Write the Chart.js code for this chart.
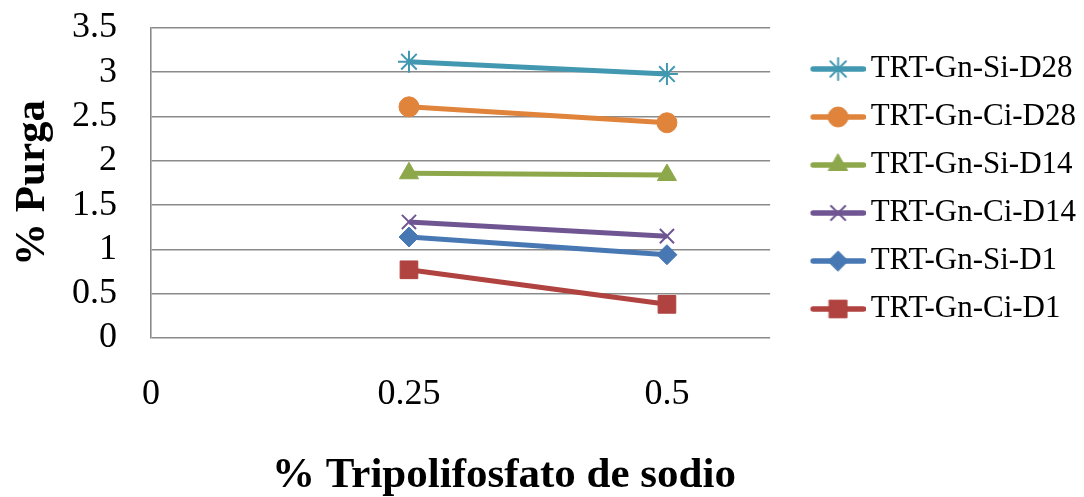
<!DOCTYPE html>
<html><head><meta charset="utf-8">
<script src="https://cdn.jsdelivr.net/npm/chart.js@4.4.0/dist/chart.umd.min.js"></script>
<style>html,body{margin:0;padding:0;background:#fff}</style>
</head><body>
<canvas id="c" width="1084" height="497"></canvas>
<script>
// ---- data ----
const xValues = [0.25, 0.5];
const xTickValues = [0, 0.25, 0.5];
const yTickValues = [0, 0.5, 1, 1.5, 2, 2.5, 3, 3.5];
const seriesNames = ['TRT-Gn-Si-D28', 'TRT-Gn-Ci-D28', 'TRT-Gn-Si-D14', 'TRT-Gn-Ci-D14', 'TRT-Gn-Si-D1', 'TRT-Gn-Ci-D1'];
const siD28 = [3.12, 2.98];
const ciD28 = [2.61, 2.43];
const siD14 = [1.86, 1.84];
const ciD14 = [1.31, 1.15];
const siD1 = [1.14, 0.94];
const ciD1 = [0.77, 0.38];
const xTitleText = '% Tripolifosfato de sodio';
const yTitleText = '% Purga';

// ---- styles ----
const seriesColors = ['#4298B0', '#E0833B', '#8DA84B', '#6F5592', '#4778B4', '#B0423F'];
const seriesMarkers = ['star', 'circle', 'triangle', 'crossRot', 'rectRot', 'rect'];
const markerRadius = [11, 10, 11, 10, 10, 12.5];
const seriesValues = [siD28, ciD28, siD14, ciD14, siD1, ciD1];
const FONT = '"Liberation Serif", "Times New Roman", serif';

function legendIcon(i) {
  const W = 89, H = 28;
  const cv = document.createElement('canvas');
  cv.width = W; cv.height = H;
  const g = cv.getContext('2d');
  g.strokeStyle = seriesColors[i];
  g.fillStyle = seriesColors[i];
  g.lineWidth = 5.5; g.lineCap = 'round';
  g.beginPath(); g.moveTo(36.5, H / 2); g.lineTo(W - 2.5, H / 2); g.stroke();
  g.lineWidth = (seriesMarkers[i] === 'star' || seriesMarkers[i] === 'crossRot') ? 2 : 1;
  Chart.helpers.drawPoint(g, {pointStyle: seriesMarkers[i], rotation: 0, radius: markerRadius[i], borderWidth: g.lineWidth}, (34 + W) / 2, H / 2);
  return cv;
}

const datasets = seriesNames.map((name, i) => ({
  label: name,
  data: xValues.map((x, k) => ({x: x, y: seriesValues[i][k]})),
  borderColor: seriesColors[i],
  backgroundColor: seriesColors[i],
  borderWidth: 5,
  pointStyle: seriesMarkers[i],
  pointRadius: markerRadius[i],
  pointHoverRadius: markerRadius[i],
  pointBorderWidth: (seriesMarkers[i] === 'star' || seriesMarkers[i] === 'crossRot') ? 2 : 1,
  tension: 0,
  fill: false
}));

const xTitlePlugin = {
  id: 'xTitleText',
  afterDraw(chart, args, opts) {
    const ctx = chart.ctx;
    ctx.save();
    ctx.font = 'bold ' + opts.size + 'px ' + FONT;
    ctx.fillStyle = opts.color;
    ctx.textAlign = 'center';
    ctx.textBaseline = 'middle';
    ctx.fillText(opts.text, opts.x, opts.y);
    ctx.restore();
  }
};

new Chart(document.getElementById('c'), {
  type: 'line',
  data: {datasets: datasets},
  plugins: [xTitlePlugin],
  options: {
    responsive: false,
    animation: false,
    layout: {autoPadding: false, padding: {top: 28, right: -2, bottom: 0, left: 0}},
    scales: {
      x: {
        type: 'linear',
        min: 0, max: 0.6,
        afterBuildTicks: s => { s.ticks = xTickValues.map(v => ({value: v})); },
        afterFit: s => { s.height = 159; s.paddingLeft = 0; s.paddingRight = 0; },
        grid: {display: false, drawTicks: false},
        border: {display: false},
        ticks: {
          padding: 35,
          autoSkip: false,
          color: '#000',
          font: {family: FONT, size: 36},
          maxRotation: 0,
          callback: v => String(v)
        },
        title: {display: false}
      },
      y: {
        min: 0, max: 3.5,
        afterBuildTicks: s => { s.ticks = yTickValues.map(v => ({value: v})); },
        afterFit: s => { s.width = 151; s.paddingTop = 0; s.paddingBottom = 0; },
        grid: {color: '#8a8a8a', lineWidth: 1.6, drawTicks: false},
        border: {display: true, color: '#8a8a8a', width: 1.6},
        ticks: {
          padding: 34,
          autoSkip: false,
          color: '#000',
          font: {family: FONT, size: 36},
          callback: v => String(v)
        },
        title: {
          display: true,
          text: yTitleText,
          color: '#000',
          font: {family: FONT, size: 43, weight: 'bold', lineHeight: 1.2},
          padding: {top: 7, bottom: 0}
        }
      }
    },
    plugins: {
      legend: {
        position: 'right',
        align: 'start',
        maxWidth: 330,
        title: {display: true, text: ' ', font: {size: 1, lineHeight: 1}, padding: {top: 0, bottom: 7.5}},
        labels: {
          usePointStyle: true,
          pointStyleWidth: 68,
          padding: 17,
          color: '#000',
          font: {family: FONT, size: 31},
          generateLabels: chart => chart.data.datasets.map((ds, i) => ({
            text: ds.label,
            pointStyle: legendIcon(i),
            fillStyle: ds.backgroundColor,
            strokeStyle: ds.borderColor,
            fontColor: '#000',
            lineWidth: 0,
            hidden: false,
            datasetIndex: i
          }))
        }
      },
      tooltip: {enabled: false},
      xTitleText: {text: xTitleText, x: 504, y: 476, size: 43, color: '#000'}
    }
  }
});
</script>
</body></html>
